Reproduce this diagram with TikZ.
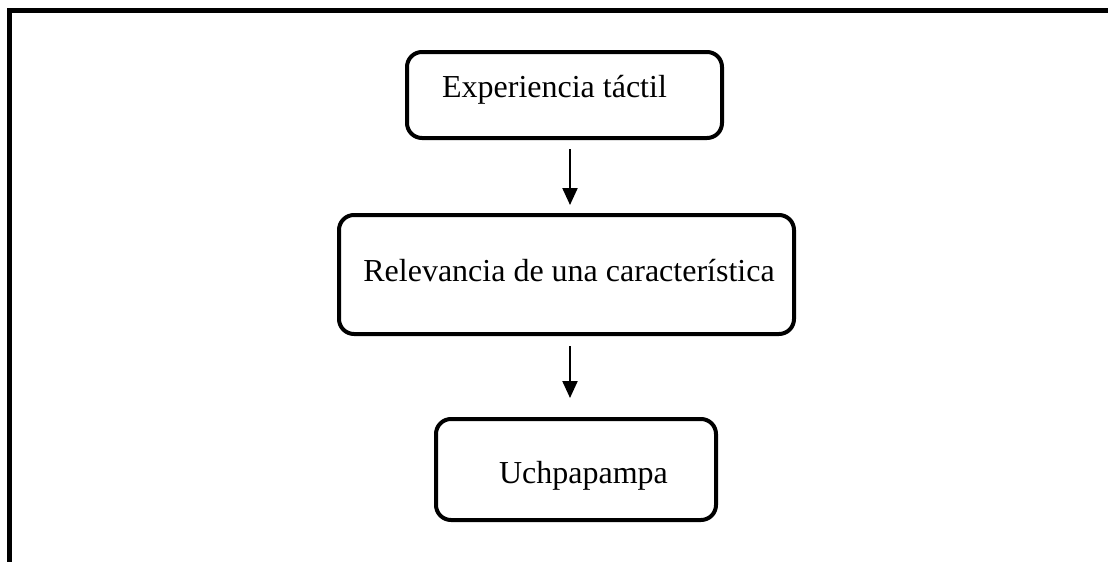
\documentclass[tikz,border=0pt]{standalone}
\usepackage{fontspec}
\setmainfont{Liberation Serif}
\usetikzlibrary{arrows.meta}
\tikzset{
	caja/.style={draw, line width=4pt, rounded corners=15pt, font=\fontsize{32}{38}\selectfont},
	flecha/.style={line width=2.2pt, -{Triangle[width=15pt,length=17pt]}}
}
\begin{document}
\begin{tikzpicture}[x=1pt,y=-1pt]
				\useasboundingbox (0,0) rectangle (1108,562);
				\draw[line width=5pt] (9.5,562)--(9.5,10.5)--(1108,10.5);
				\node[caja, minimum width=315pt, minimum height=86pt, text height=12pt, text depth=8pt] (exp) at (564.5,95) {\hspace{-20pt}Experiencia táctil};
				\node[caja, minimum width=455pt, minimum height=119pt, text height=20pt, text depth=7pt] (rel) at (566.5,274.5) {\hspace{5pt}Relevancia de una característica};
				\node[caja, minimum width=280pt, minimum height=101pt, text height=27pt, text depth=0pt] (uch) at (576,469.5) {\hspace{15pt}Uchpapampa};
				\coordinate (eje) at (570,0);
				\draw[flecha, shorten <=9pt, shorten >=8pt] (exp.south -| eje)--(rel.north -| eje);
				\draw[flecha, shorten <=10pt, shorten >=19pt] (rel.south -| eje)--(uch.north -| eje);
			\end{tikzpicture}
\end{document}
